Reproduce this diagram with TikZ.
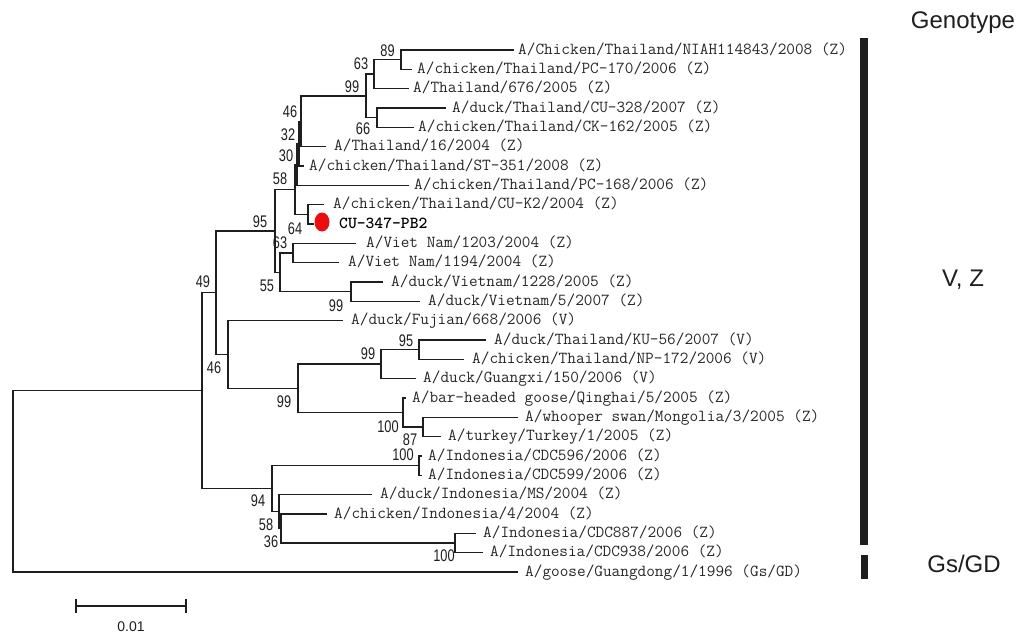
\documentclass[tikz,border=0pt]{standalone}
\usepackage{fontspec}
\usetikzlibrary{shapes.geometric}
\newfontfamily\labelfont{Liberation Sans}
\definecolor{dotred}{RGB}{236,14,14}
\definecolor{ink}{RGB}{30,30,30}
\definecolor{txt}{RGB}{40,40,40}
\newcommand{\narrow}[1]{\scalebox{0.76}[1]{#1}}
\tikzset{
  branch/.style={line width=1.4pt, draw=ink, line cap=rect},
  taxon/.style={anchor=base west, inner sep=0pt, text=txt,
    font=\ttfamily\fontsize{16.8}{16.8}\selectfont},
  boot/.style={inner sep=0pt, text=ink,
    font=\labelfont\fontsize{16.8}{16.8}\selectfont},
  group/.style={inner sep=0pt, text=ink,
    font=\labelfont\fontsize{24}{24}\selectfont},
  groupbar/.style={fill=ink},
}
\begin{document}
\begin{tikzpicture}[x=1pt,y=-1pt]
\useasboundingbox (0,0) rectangle (1021,633);
\fill[white] (0,0) rectangle (1021,633);

% ---------- leaf tips and taxon names ----------
\coordinate (t1) at (513,50);
\node[taxon] (l1) at (518,54) {A/Chicken/Thailand/NIAH114843/2008 (Z)};
\coordinate (t2) at (411,69.33);
\node[taxon] (l2) at (417,73.33) {A/chicken/Thailand/PC-170/2006 (Z)};
\coordinate (t3) at (408,88.67);
\node[taxon] (l3) at (413,92.67) {A/Thailand/676/2005 (Z)};
\coordinate (t4) at (445,108);
\node[taxon] (l4) at (452,112) {A/duck/Thailand/CU-328/2007 (Z)};
\coordinate (t5) at (413,127.33);
\node[taxon] (l5) at (418,131.33) {A/chicken/Thailand/CK-162/2005 (Z)};
\coordinate (t6) at (325,146.67);
\node[taxon] (l6) at (334,150.67) {A/Thailand/16/2004 (Z)};
\coordinate (t7) at (303,166);
\node[taxon] (l7) at (309,170) {A/chicken/Thailand/ST-351/2008 (Z)};
\coordinate (t8) at (408,185.33);
\node[taxon] (l8) at (414,189.33) {A/chicken/Thailand/PC-168/2006 (Z)};
\coordinate (t9) at (323,204.67);
\node[taxon] (l9) at (333,208.67) {A/chicken/Thailand/CU-K2/2004 (Z)};
\coordinate (t10) at (313,224);
\node[fill=dotred, ellipse, minimum width=15pt, minimum height=19pt, inner sep=0pt] (dot) at (322,222) {};
\node[taxon, font=\ttfamily\bfseries\fontsize{16.8}{16.8}\selectfont, text=black] (l10) at (339,228) {CU-347-PB2};
\coordinate (t11) at (355,243.33);
\node[taxon] (l11) at (366,247.33) {A/Viet Nam/1203/2004 (Z)};
\coordinate (t12) at (338,262.67);
\node[taxon] (l12) at (348,266.67) {A/Viet Nam/1194/2004 (Z)};
\coordinate (t13) at (382,282);
\node[taxon] (l13) at (391,286) {A/duck/Vietnam/1228/2005 (Z)};
\coordinate (t14) at (419,301.33);
\node[taxon] (l14) at (428,305.33) {A/duck/Vietnam/5/2007 (Z)};
\coordinate (t15) at (342,320.67);
\node[taxon] (l15) at (351,324.67) {A/duck/Fujian/668/2006 (V)};
\coordinate (t16) at (485,340);
\node[taxon] (l16) at (494,344) {A/duck/Thailand/KU-56/2007 (V)};
\coordinate (t17) at (463,359.33);
\node[taxon] (l17) at (472,363.33) {A/chicken/Thailand/NP-172/2006 (V)};
\coordinate (t18) at (415,378.67);
\node[taxon] (l18) at (423,382.67) {A/duck/Guangxi/150/2006 (V)};
\coordinate (t19) at (405,398);
\node[taxon] (l19) at (412,402) {A/bar-headed goose/Qinghai/5/2005 (Z)};
\coordinate (t20) at (517,417.33);
\node[taxon] (l20) at (525,421.33) {A/whooper swan/Mongolia/3/2005 (Z)};
\coordinate (t21) at (440,436.67);
\node[taxon] (l21) at (448,440.67) {A/turkey/Turkey/1/2005 (Z)};
\coordinate (t22) at (421,456);
\node[taxon] (l22) at (428,460) {A/Indonesia/CDC596/2006 (Z)};
\coordinate (t23) at (421,475.33);
\node[taxon] (l23) at (428,479.33) {A/Indonesia/CDC599/2006 (Z)};
\coordinate (t24) at (371,494.67);
\node[taxon] (l24) at (380,498.67) {A/duck/Indonesia/MS/2004 (Z)};
\coordinate (t25) at (326,514);
\node[taxon] (l25) at (334,518) {A/chicken/Indonesia/4/2004 (Z)};
\coordinate (t26) at (475,533.33);
\node[taxon] (l26) at (483,537.33) {A/Indonesia/CDC887/2006 (Z)};
\coordinate (t27) at (482,552.67);
\node[taxon] (l27) at (490,556.67) {A/Indonesia/CDC938/2006 (Z)};
\coordinate (t28) at (517,572);
\node[taxon] (l28) at (525,576) {A/goose/Guangdong/1/1996 (Gs/GD)};

% ---------- internal nodes ----------
\coordinate (n89)  at (401,59.67);
\coordinate (n63a) at (374,74.17);
\coordinate (n66)  at (377,117.67);
\coordinate (n99a) at (366,95.92);
\coordinate (n46a) at (301,121.29);
\coordinate (n32)  at (299,143.65);
\coordinate (n30)  at (297,164.49);
\coordinate (n64)  at (308,214.33);
\coordinate (n58a) at (295,189.41);
\coordinate (n63b) at (293,253);
\coordinate (n99b) at (351,291.67);
\coordinate (n55)  at (280,272.33);
\coordinate (n95a) at (275,230.87);
\coordinate (n95b) at (419,349.67);
\coordinate (n99c) at (381,364.17);
\coordinate (n87)  at (423,427);
\coordinate (n100a) at (403,412.5);
\coordinate (n99d) at (298,388.33);
\coordinate (n46b) at (228,354.5);
\coordinate (n49)  at (216,292.69);
\coordinate (n100b) at (419,465.67);
\coordinate (n100c) at (455,543);
\coordinate (n36)  at (281,528.5);
\coordinate (n58b) at (279,511.58);
\coordinate (n94)  at (272,488.63);
\coordinate (nU)   at (202,390.66);
\coordinate (root) at (13,481.33);

% ---------- branches ----------
\draw[branch] (t1) -| (n89) |- (t2);
\draw[branch] (n89) -| (n63a) |- (t3);
\draw[branch] (t4) -| (n66) |- (t5);
\draw[branch] (n63a) -| (n99a) |- (n66);
\draw[branch] (n99a) -| (n46a) |- (t6);
\draw[branch] (n46a) -| (n32) |- (t7);
\draw[branch] (n32) -| (n30) |- (t8);
\draw[branch] (t9) -| (n64) |- (t10);
\draw[branch] (n30) -| (n58a) |- (n64);
\draw[branch] (t11) -| (n63b) |- (t12);
\draw[branch] (t13) -| (n99b) |- (t14);
\draw[branch] (n63b) -| (n55) |- (n99b);
\draw[branch] (n58a) -| (n95a) |- (n55);
\draw[branch] (t16) -| (n95b) |- (t17);
\draw[branch] (n95b) -| (n99c) |- (t18);
\draw[branch] (t20) -| (n87) |- (t21);
\draw[branch] (t19) -| (n100a) |- (n87);
\draw[branch] (n99c) -| (n99d) |- (n100a);
\draw[branch] (t15) -| (n46b) |- (n99d);
\draw[branch] (n95a) -| (n49) |- (n46b);
\draw[branch] (t22) -| (n100b) |- (t23);
\draw[branch] (t26) -| (n100c) |- (t27);
\draw[branch] (t25) -| (n36) |- (n100c);
\draw[branch] (t24) -| (n58b) |- (n36);
\draw[branch] (n100b) -| (n94) |- (n58b);
\draw[branch] (n49) -| (nU) |- (n94);
\draw[branch] (nU) -| (root) |- (t28);

% ---------- bootstrap values ----------
\node[boot] (b89)   at (387.5,51)  {\narrow{89}};
\node[boot] (b63a)  at (361,64)    {\narrow{63}};
\node[boot] (b99a)  at (352,87)    {\narrow{99}};
\node[boot] (b66)   at (363,129)   {\narrow{66}};
\node[boot] (b46a)  at (290,112)   {\narrow{46}};
\node[boot] (b32)   at (288,135)   {\narrow{32}};
\node[boot] (b30)   at (286,156)   {\narrow{30}};
\node[boot] (b58a)  at (280,179)   {\narrow{58}};
\node[boot] (b95a)  at (260,222)   {\narrow{95}};
\node[boot] (b64)   at (295,229)   {\narrow{64}};
\node[boot] (b63b)  at (280,243)   {\narrow{63}};
\node[boot] (b55)   at (267,286)   {\narrow{55}};
\node[boot] (b99b)  at (336,306)   {\narrow{99}};
\node[boot] (b49)   at (203,282)   {\narrow{49}};
\node[boot] (b46b)  at (214,368)   {\narrow{46}};
\node[boot] (b99c)  at (368,354)   {\narrow{99}};
\node[boot] (b95b)  at (406,341)   {\narrow{95}};
\node[boot] (b99d)  at (284,402)   {\narrow{99}};
\node[boot] (b100a) at (388,427)   {\narrow{100}};
\node[boot] (b87)   at (410,440)   {\narrow{87}};
\node[boot] (b100b) at (403,455)   {\narrow{100}};
\node[boot] (b94)   at (258,501)   {\narrow{94}};
\node[boot] (b58b)  at (266,525)   {\narrow{58}};
\node[boot] (b36)   at (271,542)   {\narrow{36}};
\node[boot] (b100c) at (444,556)   {\narrow{100}};

% ---------- genotype column ----------
\node[group] (gt) at (963,23) {Genotype};
\fill[groupbar] (860,38) rectangle (868,545);
\node[group] (gvz) at (963,280) {V, Z};
\fill[groupbar] (861,555) rectangle (868,579);
\node[group] (ggs) at (964,564) {Gs/GD};

% ---------- scale bar ----------
\coordinate (s0) at (76,606);
\coordinate (s1) at (186,606);
\draw[line width=1.3pt, draw=ink] (s0) -- (s1);
\draw[line width=1.3pt, draw=ink] ([yshift=7pt]s0) -- ([yshift=-7pt]s0);
\draw[line width=1.3pt, draw=ink] ([yshift=7pt]s1) -- ([yshift=-7pt]s1);
\node[inner sep=0pt, text=ink, font=\labelfont\fontsize{14}{14}\selectfont] (sl) at (131,627) {0.01};
\end{tikzpicture}
\end{document}
